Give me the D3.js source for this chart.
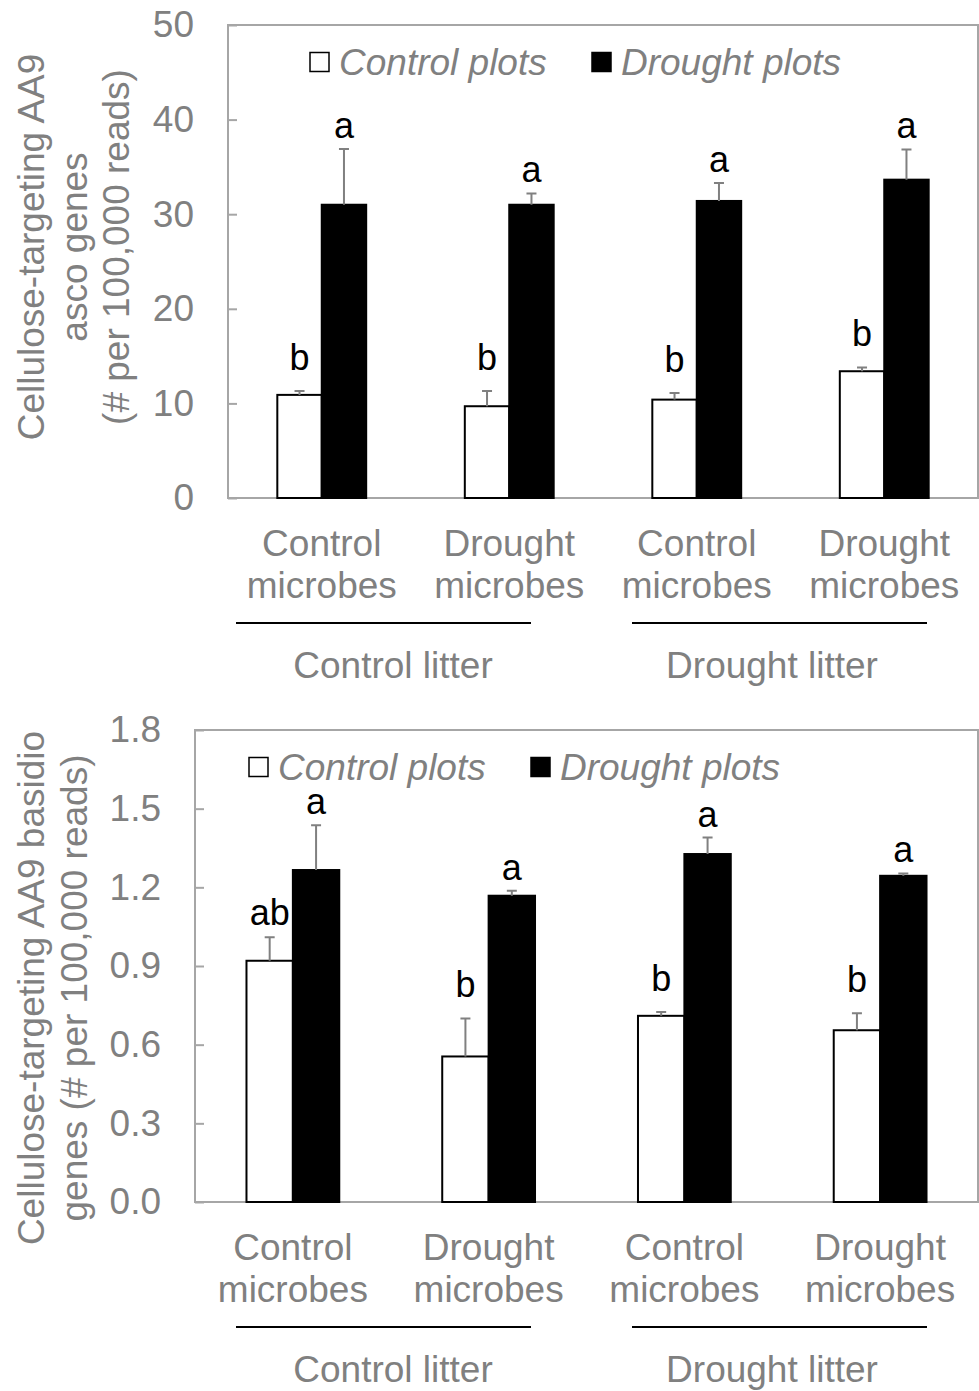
<!DOCTYPE html>
<html>
<head>
<meta charset="utf-8">
<script src="https://cdn.jsdelivr.net/npm/d3@7"></script>
<style>
  body { margin: 0; background: #fff; }
  text { font-family: 'Liberation Sans', Arial, sans-serif; }
</style>
</head>
<body>
<div id="chart"></div>
<script>
// Categories (litter x microbes) and their two-line tick labels
const categories = ['CL-CM', 'CL-DM', 'DL-CM', 'DL-DM'];
const microbeLabels = [['Control', 'microbes'], ['Drought', 'microbes'], ['Control', 'microbes'], ['Drought', 'microbes']];
const litterLabels = ['Control litter', 'Drought litter'];
const seriesNames = ['Control plots', 'Drought plots'];

// Panel A: asco AA9 genes
const ascoControl = [10.9, 9.7, 10.4, 13.4];
const ascoControlErr = [0.4, 1.6, 0.7, 0.4];
const ascoDrought = [31.0, 31.0, 31.4, 33.65];
const ascoDroughtErr = [5.9, 1.2, 1.9, 3.2];
const ascoControlLetters = ['b', 'b', 'b', 'b'];
const ascoDroughtLetters = ['a', 'a', 'a', 'a'];
const ascoTicks = [0, 10, 20, 30, 40, 50];

// Panel B: basidio AA9 genes
const basidioControl = [0.92, 0.555, 0.71, 0.655];
const basidioControlErr = [0.09, 0.145, 0.015, 0.065];
const basidioDrought = [1.266, 1.168, 1.327, 1.244];
const basidioDroughtErr = [0.171, 0.019, 0.063, 0.009];
const basidioControlLetters = ['ab', 'b', 'b', 'b'];
const basidioDroughtLetters = ['a', 'a', 'a', 'a'];
const basidioTicks = [0, 0.3, 0.6, 0.9, 1.2, 1.5, 1.8];

const GREY = '#808080';
const FRAME = '#a6a6a6';
const FONT = 37;

const svg = d3.select('#chart').append('svg')
  .attr('width', 979)
  .attr('height', 1391);

svg.append('rect').attr('width', 979).attr('height', 1391).attr('fill', '#fff');

function drawPanel(opts) {
  const { left, right, top, bottom, yTicks, yFormat, titleLines, titleY, legendX } = opts;

  const x = d3.scaleBand().domain(categories).range([left, right]);
  const barW = x.bandwidth() * 0.237;
  const sub = d3.scaleBand().domain(['control', 'drought']).range([-barW, barW]);
  const y = d3.scaleLinear().domain([0, d3.max(yTicks)]).range([bottom, top]);

  const g = svg.append('g');

  // plot frame
  g.append('rect')
    .attr('x', left).attr('y', top)
    .attr('width', right - left).attr('height', bottom - top)
    .attr('fill', 'none')
    .attr('stroke', FRAME)
    .attr('stroke-width', 2);

  // y axis (inner ticks, labels on the left)
  const yAxis = g.append('g')
    .attr('transform', `translate(${left},0)`)
    .call(d3.axisLeft(y).tickValues(yTicks).tickSize(-9).tickPadding(34).tickFormat(yFormat));
  yAxis.select('.domain').remove();
  yAxis.selectAll('line').attr('stroke', FRAME).attr('stroke-width', 2);
  yAxis.selectAll('text')
    .attr('fill', GREY)
    .style('font-size', FONT + 'px')
    .style('font-family', "'Liberation Sans', Arial, sans-serif");

  // y title, rotated, several lines
  titleLines.forEach((line, i) => {
    g.append('text')
      .attr('transform', `translate(${44 + i * 42.5},${titleY}) rotate(-90)`)
      .attr('text-anchor', 'middle')
      .attr('fill', GREY)
      .style('font-size', FONT + 'px')
      .text(line);
  });

  // series
  const series = [
    { key: 'control', vals: opts.controlVals, errs: opts.controlErr, letters: opts.controlLetters, fill: '#fff' },
    { key: 'drought', vals: opts.droughtVals, errs: opts.droughtErr, letters: opts.droughtLetters, fill: '#000' }
  ];

  series.forEach(s => {
    const rows = categories.map((c, i) => ({ c, v: s.vals[i], e: s.errs[i], l: s.letters[i] }));
    const cx = d => x(d.c) + x.bandwidth() / 2 + sub(s.key) + sub.bandwidth() / 2;

    g.selectAll(null)
      .data(rows)
      .enter().append('rect')
      .attr('x', d => x(d.c) + x.bandwidth() / 2 + sub(s.key))
      .attr('y', d => y(d.v))
      .attr('width', sub.bandwidth())
      .attr('height', d => y(0) - y(d.v))
      .attr('fill', s.fill)
      .attr('stroke', '#000')
      .attr('stroke-width', 2);

    // error bars (upper only)
    g.selectAll(null)
      .data(rows)
      .enter().append('path')
      .attr('d', d => `M${cx(d)},${y(d.v)}V${y(d.v + d.e)}M${cx(d) - 5},${y(d.v + d.e)}H${cx(d) + 5}`)
      .attr('fill', 'none')
      .attr('stroke', GREY)
      .attr('stroke-width', 2);

    // significance letters
    g.selectAll(null)
      .data(rows)
      .enter().append('text')
      .attr('x', cx)
      .attr('y', d => y(d.v + d.e) - (d.l === 'a' ? 11 : d.l === 'ab' ? 12 : 21))
      .attr('text-anchor', 'middle')
      .attr('fill', '#000')
      .style('font-size', '36px')
      .text(d => d.l);
  });

  // category labels
  categories.forEach((c, i) => {
    microbeLabels[i].forEach((line, j) => {
      g.append('text')
        .attr('x', x(c) + x.bandwidth() / 2)
        .attr('y', bottom + 58 + j * 42)
        .attr('text-anchor', 'middle')
        .attr('fill', GREY)
        .style('font-size', FONT + 'px')
        .text(line);
    });
  });

  // litter groups: rule + label
  const litterLines = [[236, 531], [632, 927]];
  const litterCenters = [393, 772];
  litterLabels.forEach((lab, i) => {
    g.append('line')
      .attr('x1', litterLines[i][0]).attr('x2', litterLines[i][1])
      .attr('y1', bottom + 125).attr('y2', bottom + 125)
      .attr('stroke', '#000')
      .attr('stroke-width', 2);
    g.append('text')
      .attr('x', litterCenters[i])
      .attr('y', bottom + 180)
      .attr('text-anchor', 'middle')
      .attr('fill', GREY)
      .style('font-size', FONT + 'px')
      .text(lab);
  });

  // legend
  const legY = top + 37;
  const legOffsets = [0, 282];
  seriesNames.forEach((name, i) => {
    g.append('rect')
      .attr('x', legendX + legOffsets[i])
      .attr('y', legY - 9.5)
      .attr('width', 19).attr('height', 19)
      .attr('fill', i === 0 ? '#fff' : '#000')
      .attr('stroke', '#000')
      .attr('stroke-width', 1.5);
    g.append('text')
      .attr('x', legendX + legOffsets[i] + 29)
      .attr('y', legY)
      .attr('dy', '0.35em')
      .attr('fill', GREY)
      .style('font-size', FONT + 'px')
      .style('font-style', 'italic')
      .text(name);
  });
}

drawPanel({
  left: 228, right: 978, top: 25, bottom: 498,
  yTicks: ascoTicks,
  yFormat: d3.format('d'),
  titleLines: ['Cellulose-targeting AA9', 'asco genes', '(# per 100,000 reads)'],
  titleY: 247,
  legendX: 310,
  controlVals: ascoControl, controlErr: ascoControlErr, controlLetters: ascoControlLetters,
  droughtVals: ascoDrought, droughtErr: ascoDroughtErr, droughtLetters: ascoDroughtLetters
});

drawPanel({
  left: 195, right: 978, top: 730, bottom: 1202,
  yTicks: basidioTicks,
  yFormat: d3.format('.1f'),
  titleLines: ['Cellulose-targeting AA9 basidio', 'genes (# per 100,000 reads)'],
  titleY: 988,
  legendX: 249,
  controlVals: basidioControl, controlErr: basidioControlErr, controlLetters: basidioControlLetters,
  droughtVals: basidioDrought, droughtErr: basidioDroughtErr, droughtLetters: basidioDroughtLetters
});
</script>
</body>
</html>
